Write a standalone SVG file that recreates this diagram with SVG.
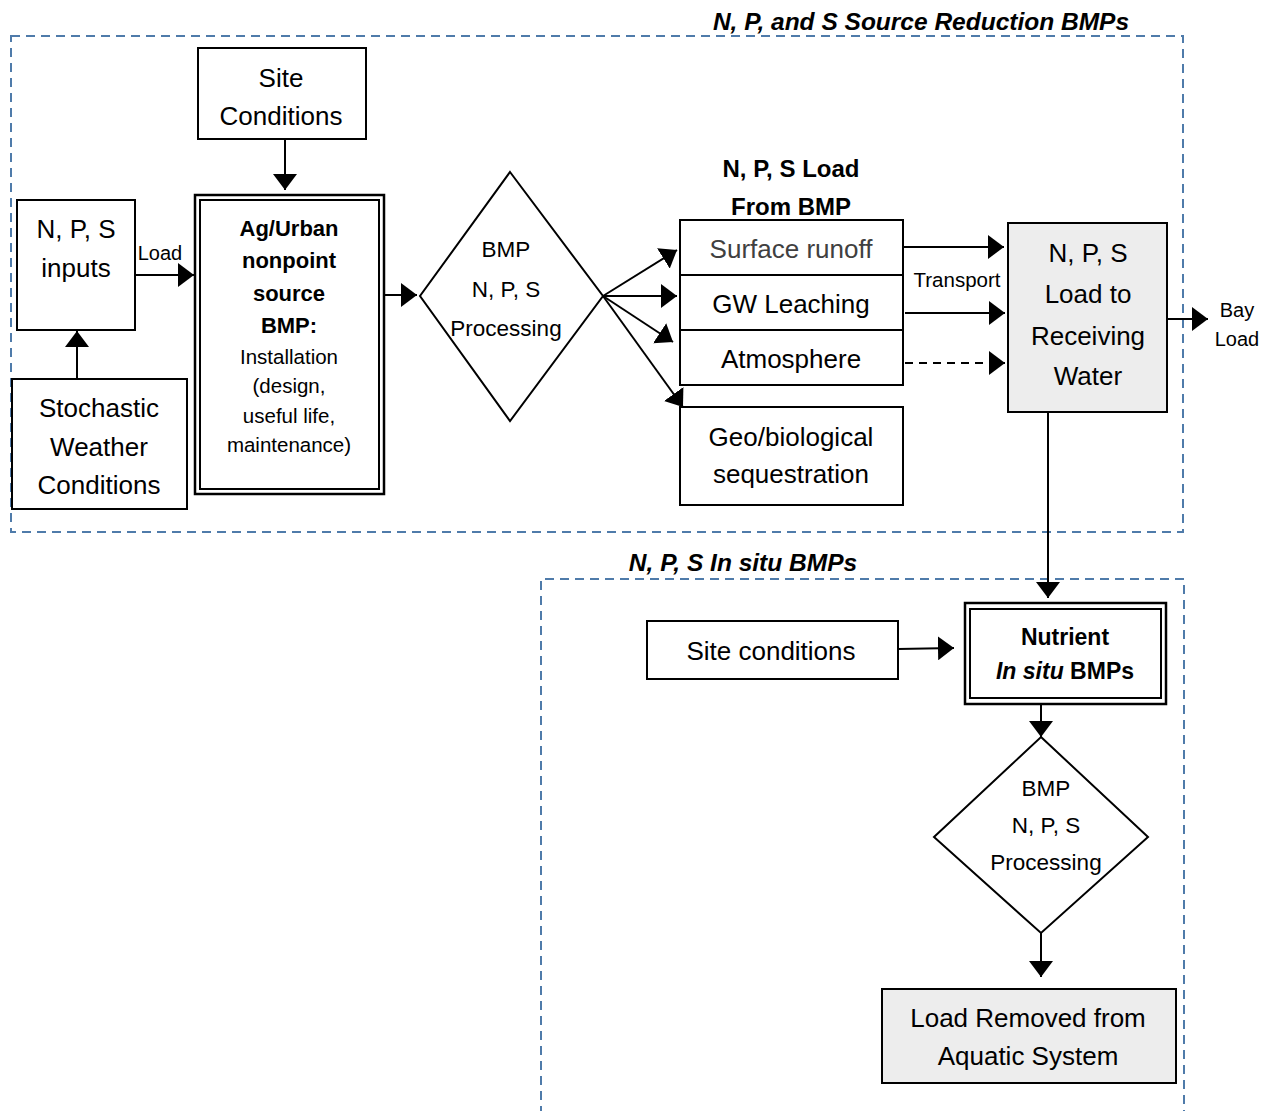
<svg xmlns="http://www.w3.org/2000/svg" width="1270" height="1111" viewBox="0 0 1270 1111">
<style>
  text { font-family: "Liberation Sans", Arial, sans-serif; fill: #000; text-anchor: middle; }
  .t26 { font-size: 26px; }
  .t23 { font-size: 22.5px; }
  .t21 { font-size: 20.5px; }
  .t20 { font-size: 20px; }
  .b22 { font-size: 22px; font-weight: bold; }
  .b24 { font-size: 24px; font-weight: bold; }
  .b23 { font-size: 23px; font-weight: bold; }
  .ttl { font-size: 24.5px; font-weight: bold; font-style: italic; }
  .box { fill: #fff; stroke: #000; stroke-width: 2; }
  .gbox { fill: #ededed; stroke: #000; stroke-width: 2; }
  .outer { fill: none; stroke: #000; stroke-width: 2.5; }
  .zone { fill: none; stroke: #4f7baa; stroke-width: 2; stroke-dasharray: 9 6; }
  .con { fill: none; stroke: #000; stroke-width: 2; marker-end: url(#ah); }
  .dash { stroke-dasharray: 8 6; }
</style>
<defs>
  <marker id="ah" markerUnits="userSpaceOnUse" markerWidth="16" markerHeight="24" refX="16" refY="12" orient="auto" viewBox="0 0 16 24">
    <path d="M0,0 L16,12 L0,24 z" fill="#000"/>
  </marker>
</defs>
<rect width="1270" height="1111" fill="#fff"/>

<g id="zone-source">
  <rect class="zone" x="11" y="36" width="1172" height="496"/>
  <text class="ttl" x="921" y="30">N, P, and S Source Reduction BMPs</text>
</g>
<g id="zone-insitu">
  <path class="zone" d="M541,1115 V579 H1184 V1115"/>
  <text class="ttl" x="743" y="571">N, P, S In situ BMPs</text>
</g>

<g id="connectors">
  <line class="con" x1="285" y1="139" x2="285" y2="190"/>
  <line class="con" x1="77" y1="379" x2="77" y2="331"/>
  <line class="con" x1="136" y1="275" x2="194" y2="275"/>
  <line class="con" x1="385" y1="295" x2="417" y2="295"/>
  <line class="con" x1="603" y1="296" x2="677" y2="250"/>
  <line class="con" x1="603" y1="296" x2="677" y2="296"/>
  <line class="con" x1="603" y1="296" x2="673" y2="342"/>
  <line class="con" x1="603" y1="296" x2="683" y2="407"/>
  <line class="con" x1="903" y1="247" x2="1004" y2="247"/>
  <line class="con" x1="905" y1="313" x2="1005" y2="313"/>
  <line class="con dash" x1="905" y1="363" x2="1005" y2="363"/>
  <line class="con" x1="1167" y1="319" x2="1208" y2="319"/>
  <line class="con" x1="1048" y1="412" x2="1048" y2="598"/>
  <line class="con" x1="898" y1="649" x2="954" y2="648"/>
  <line class="con" x1="1041" y1="704" x2="1041" y2="737"/>
  <line class="con" x1="1041" y1="933" x2="1041" y2="977"/>
  <text class="t20" x="160" y="260">Load</text>
  <text class="t21" x="957" y="287">Transport</text>
  <text class="t20" x="1237" y="317">Bay</text>
  <text class="t20" x="1237" y="346">Load</text>
</g>

<g id="site-conditions">
  <rect class="box" x="198" y="48" width="168" height="91"/>
  <text class="t26" x="281" y="87">Site</text>
  <text class="t26" x="281" y="125">Conditions</text>
</g>

<g id="inputs">
  <rect class="box" x="17" y="200" width="118" height="130"/>
  <text class="t26" x="76" y="238">N, P, S</text>
  <text class="t26" x="76" y="277">inputs</text>
</g>

<g id="weather">
  <rect class="box" x="12" y="379" width="175" height="130"/>
  <text class="t26" x="99" y="417">Stochastic</text>
  <text class="t26" x="99" y="456">Weather</text>
  <text class="t26" x="99" y="494">Conditions</text>
</g>

<g id="ag-urban-bmp">
  <rect class="outer" x="195" y="195" width="189" height="299"/>
  <rect class="box" x="200" y="200" width="179" height="289"/>
  <text class="b22" x="289" y="236">Ag/Urban</text>
  <text class="b22" x="289" y="268">nonpoint</text>
  <text class="b22" x="289" y="301">source</text>
  <text class="b22" x="289" y="333">BMP:</text>
  <text class="t21" x="289" y="364">Installation</text>
  <text class="t21" x="289" y="393">(design,</text>
  <text class="t21" x="289" y="423">useful life,</text>
  <text class="t21" x="289" y="452">maintenance)</text>
</g>

<g id="processing-1">
  <polygon class="box" points="510,172 603,296 510,421 420,296"/>
  <text class="t23" x="506" y="257">BMP</text>
  <text class="t23" x="506" y="297">N, P, S</text>
  <text class="t23" x="506" y="336">Processing</text>
</g>

<g id="load-from-bmp">
  <text class="b24" x="791" y="177">N, P, S Load</text>
  <text class="b24" x="791" y="215">From BMP</text>
</g>

<g id="surface-runoff">
  <rect class="box" x="680" y="220" width="223" height="55"/>
  <text class="t26" x="791" y="258" style="fill:#404040">Surface runoff</text>
</g>
<g id="gw-leaching">
  <rect class="box" x="680" y="275" width="223" height="55"/>
  <text class="t26" x="791" y="313">GW Leaching</text>
</g>
<g id="atmosphere">
  <rect class="box" x="680" y="330" width="223" height="55"/>
  <text class="t26" x="791" y="368">Atmosphere</text>
</g>
<g id="sequestration">
  <rect class="box" x="680" y="407" width="223" height="98"/>
  <text class="t26" x="791" y="446">Geo/biological</text>
  <text class="t26" x="791" y="483">sequestration</text>
</g>

<g id="receiving-water">
  <rect class="gbox" x="1008" y="223" width="159" height="189"/>
  <text class="t26" x="1088" y="262">N, P, S</text>
  <text class="t26" x="1088" y="303">Load to</text>
  <text class="t26" x="1088" y="345">Receiving</text>
  <text class="t26" x="1088" y="385">Water</text>
</g>

<g id="site-conditions-2">
  <rect class="box" x="647" y="621" width="251" height="58"/>
  <text class="t26" x="771" y="660">Site conditions</text>
</g>

<g id="insitu-bmp">
  <rect class="outer" x="965" y="603" width="201" height="101"/>
  <rect class="box" x="970" y="609" width="191" height="89"/>
  <text class="b23" x="1065" y="645">Nutrient</text>
  <text class="b23" x="1065" y="679"><tspan font-style="italic">In situ</tspan> BMPs</text>
</g>

<g id="processing-2">
  <polygon class="box" points="1041,737 1148,837 1041,933 934,837"/>
  <text class="t23" x="1046" y="796">BMP</text>
  <text class="t23" x="1046" y="833">N, P, S</text>
  <text class="t23" x="1046" y="870">Processing</text>
</g>

<g id="load-removed">
  <rect class="gbox" x="882" y="989" width="294" height="94"/>
  <text class="t26" x="1028" y="1027">Load Removed from</text>
  <text class="t26" x="1028" y="1065">Aquatic System</text>
</g>
</svg>
